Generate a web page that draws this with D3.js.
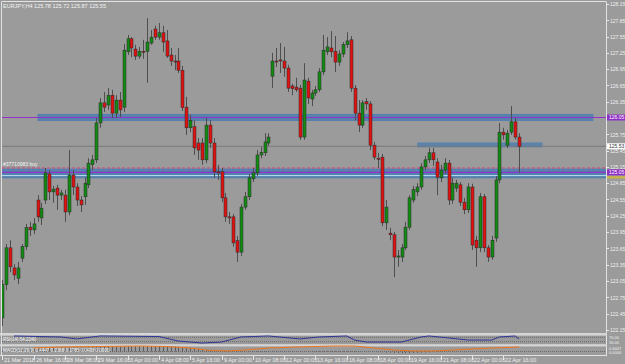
<!DOCTYPE html>
<html>
<head>
<meta charset="utf-8">
<script src="https://cdn.jsdelivr.net/npm/d3@7"></script>
<style>
  body { margin: 0; background: #9b9b9b; }
  svg { display: block; }
  text { font-family: "Liberation Sans", Arial, sans-serif; }
</style>
</head>
<body>
<svg id="chart"></svg>
<script>
// EURJPY H4 candles
var opens = [122.37,122.98,123.66,123.29,123.10,123.47,123.68,124.04,123.99,124.54,124.21,124.54,125.02,124.69,124.76,124.63,124.63,124.32,125.00,124.78,124.54,124.60,124.82,125.19,125.28,125.96,126.33,126.29,126.47,126.14,126.38,126.25,127.27,127.51,127.32,127.19,127.28,127.28,127.43,127.69,127.54,127.62,127.47,127.21,127.10,127.10,126.93,126.25,125.87,125.89,125.59,125.59,125.28,125.92,125.59,125.06,125.06,124.58,124.23,124.23,123.79,123.58,124.41,124.60,124.93,125.04,125.37,125.41,125.59,126.82,127.10,127.12,127.10,126.97,126.64,126.62,126.60,125.70,126.73,126.40,126.51,126.57,126.90,127.27,127.34,127.28,127.08,127.23,127.40,127.49,126.60,126.14,125.92,126.35,126.31,125.55,125.31,125.33,124.12,123.93,123.90,123.49,123.49,123.66,124.04,124.54,124.69,124.78,125.15,125.28,125.41,125.24,124.95,125.09,125.22,124.54,124.76,124.82,124.50,124.36,124.78,123.80,123.66,124.60,123.66,123.49,123.84,124.91,125.79,125.55,125.79,125.98,125.70];
var highs = [123.07,123.73,123.80,123.36,123.40,123.73,124.10,124.14,124.21,124.63,124.49,125.13,125.09,124.80,124.82,124.73,124.73,125.46,125.09,124.85,124.61,124.95,125.31,125.37,126.05,126.42,126.53,126.60,126.57,126.47,126.53,127.41,127.58,127.54,127.40,127.36,127.49,127.89,127.67,127.75,127.80,127.75,127.67,127.34,127.21,127.34,127.01,126.44,126.11,126.01,125.68,125.68,126.05,126.01,125.68,125.19,125.13,124.67,124.32,124.28,123.88,124.47,124.69,125.02,125.13,125.46,125.52,125.77,125.77,127.25,127.34,127.43,127.36,127.03,126.68,126.79,126.66,127.06,126.79,126.57,126.64,126.97,127.58,127.54,127.65,127.56,127.30,127.45,127.63,127.56,126.66,126.38,126.38,126.42,126.36,125.61,125.41,125.39,124.54,124.03,123.95,123.62,123.73,124.14,124.63,124.80,124.85,125.22,125.35,125.50,125.50,125.31,125.19,125.31,125.28,124.95,124.91,124.87,124.58,124.85,124.84,123.88,124.67,124.65,123.71,123.88,124.98,125.96,125.87,125.83,126.27,126.05,125.77];
var lows = [122.22,122.88,123.21,123.07,122.99,123.40,123.62,123.88,123.91,124.14,124.08,124.47,124.54,124.49,124.36,124.54,124.14,124.26,124.63,124.43,124.32,124.45,124.76,125.09,125.22,125.87,126.16,126.20,126.05,126.05,126.07,126.16,127.21,127.17,127.12,127.14,127.14,126.70,127.40,127.49,127.49,127.27,127.16,127.01,126.93,126.88,126.18,125.74,125.79,125.37,125.28,125.19,125.22,125.50,124.95,124.91,124.50,124.14,124.10,123.68,123.40,123.51,124.36,124.54,124.87,124.98,125.31,125.35,125.54,126.60,126.99,126.88,126.81,126.53,126.47,126.53,125.65,125.65,126.31,126.27,126.46,126.53,126.84,127.21,127.17,126.90,127.01,127.17,127.34,126.53,126.01,125.79,125.87,126.20,125.46,125.28,125.13,124.06,123.99,123.80,123.12,123.31,123.40,123.62,123.99,124.49,124.61,124.73,125.09,125.22,125.17,124.63,124.87,125.02,124.45,124.47,124.69,124.43,124.28,124.30,123.62,123.31,123.58,123.58,123.40,123.44,123.77,124.85,125.65,125.50,125.74,125.65,125.04];
var closes = [122.98,123.66,123.31,123.16,123.29,123.68,124.03,123.99,124.10,124.23,124.39,125.04,124.69,124.74,124.63,124.67,124.32,125.00,124.78,124.54,124.45,124.85,125.22,125.28,125.96,126.33,126.25,126.47,126.14,126.38,126.20,127.30,127.51,127.34,127.19,127.28,127.27,127.45,127.54,127.54,127.62,127.45,127.19,127.10,127.09,126.93,126.24,125.87,126.01,125.50,125.46,125.28,125.92,125.59,125.06,125.04,124.58,124.23,124.21,123.75,123.58,124.41,124.60,124.95,125.04,125.37,125.42,125.61,125.70,127.10,127.09,127.11,126.97,126.60,126.59,126.57,125.70,126.75,126.42,126.51,126.57,126.90,127.30,127.36,127.27,127.08,127.23,127.40,127.47,126.60,126.14,125.92,126.33,126.31,125.55,125.33,125.30,124.12,124.41,123.90,123.49,123.51,123.66,124.04,124.58,124.73,124.78,125.15,125.28,125.41,125.28,124.96,125.09,125.22,124.54,124.85,124.85,124.50,124.36,124.78,123.71,123.66,124.60,123.66,123.49,123.80,124.91,125.79,125.74,125.77,125.98,125.70,125.53];

var priceTicks = [128.15,127.85,127.55,127.25,126.95,126.65,126.35,126.05,125.75,125.45,125.15,124.85,124.55,124.25,123.95,123.65,123.35,123.05,122.75,122.45,122.15];
var timeLabels = ["21 Mar 2018","26 Mar 16:00","28 Mar 08:00","29 Mar 16:00","3 Apr 00:00","4 Apr 08:00","5 Apr 16:00","9 Apr 00:00","10 Apr 08:00","12 Apr 00:00","13 Apr 16:00","16 Apr 08:00","18 Apr 00:00","19 Apr 16:00","21 Apr 08:00","22 Apr 00:00","22 Apr 16:00"];

// chart objects (prices)
var hLinePurple = 126.06;
var zoneTop = [126.125, 125.995];   // from bar 9 to bar 151
var zoneMid = [125.60, 125.51];     // from bar 106 to bar 138
var zoneLow = [125.12, 124.94];
var orderPrice = 125.13;
var lowPurple = 125.05;
var lowCyan = 124.99;
var bidPrice = 125.53;

// RSI sub window
var rsiBars = [3,15,19,25,40,45,51,56,61,68,76,81,88,90,93,102,107,109,114,119,125,127,131,132];
var rsiValues = [82,73,55,82,77,36,18,27,73,82,55,73,82,45,27,27,73,82,64,45,45,73,82,54];

// MACD style sub window
var histValues = [0.10,0.12,0.15,0.15,0.16,0.18,0.22,0.26,0.28,0.32,0.34,0.38,0.40,0.40,0.40,0.40,0.38,0.40,0.40,0.38,0.36,0.36,0.38,0.40,0.42,0.46,0.48,0.50,0.50,0.50,0.50,0.52,0.54,0.54,0.54,0.54,0.54,0.54,0.54,0.55,0.55,0.55,0.54,0.52,0.50,0.48,0.42,0.38,0.34,0.30,0.26,0.22,0.18,0.14,0.10,0.08,0.06,0.04,0.02,0.00,-0.02,-0.02,0.00,0.02,0.02,0.04,0.04,0.04,0.06,0.06,0.06,0.06,0.06,0.06,0.06,0.04,0.04,0.04,0.04,0.04,0.04,0.06,0.06,0.06,0.06,0.06,0.06,0.06,0.06,0.04,0.04,0.02,0.02,0.02,0.00,-0.02,-0.06,-0.08,-0.10,-0.12,-0.14,-0.16,-0.18,-0.18,-0.18,-0.16,-0.14,-0.12,-0.10,-0.08,-0.06,-0.04,-0.02,0.00,0.00,0.00,0.00,0.00,0.00,0.00,0.00,0.00,0.00,0.00,0.00,0.00,0.00,0.00,0.00,0.00,0.00,0.00,0.00];
var signalBars = [8,15,25,35,42,48,52,57,62,68,75,85,90,95,100,105,110,115,120,125,132];
var signalValues = [0.35,0.45,0.50,0.55,0.50,0.35,0.15,0.05,0.15,0.35,0.45,0.55,0.55,0.35,0.15,0.05,0.05,0.15,0.25,0.35,0.45];

var outerWidth = 625;
var outerHeight = 364;
var left = 2, right = 606;
var mainTop = 2, mainBottom = 333;

var svg = d3.select("#chart").attr("width", outerWidth).attr("height", outerHeight);
svg.append("rect").attr("width", outerWidth).attr("height", outerHeight).attr("fill", "#9b9b9b");

var x = d3.scaleLinear().domain([0, 132]).range([2.3, 519]);
var y = d3.scaleLinear().domain([122.15, 128.15]).range([329.8, 4]);

svg.append("defs").append("clipPath").attr("id", "mainclip")
  .append("rect").attr("x", left).attr("y", mainTop).attr("width", right - left).attr("height", mainBottom - mainTop);

var cg = svg.append("g").attr("clip-path", "url(#mainclip)");

var zoneColor = "#4a7db2";
// upper zone
cg.append("rect").attr("x", x(9)).attr("width", x(151) - x(9))
  .attr("y", y(zoneTop[0])).attr("height", y(zoneTop[1]) - y(zoneTop[0]))
  .attr("fill", zoneColor).attr("opacity", 0.85);
// short zone
cg.append("rect").attr("x", x(106)).attr("width", x(138) - x(106))
  .attr("y", y(zoneMid[0])).attr("height", y(zoneMid[1]) - y(zoneMid[0]))
  .attr("fill", zoneColor).attr("opacity", 0.8);
// lower zone
cg.append("rect").attr("x", left).attr("width", right - left)
  .attr("y", y(zoneLow[0])).attr("height", y(zoneLow[1]) - y(zoneLow[0]))
  .attr("fill", zoneColor).attr("opacity", 0.85);

function hline(p, color, w, dash) {
  var l = cg.append("line").attr("x1", left).attr("x2", right)
    .attr("y1", y(p)).attr("y2", y(p))
    .attr("stroke", color).attr("stroke-width", w);
  if (dash) l.attr("stroke-dasharray", dash);
  return l;
}
hline(bidPrice, "#7a7a7a", 1);
hline(hLinePurple, "#9332c8", 1.2);
hline(orderPrice, "#d2407e", 1, "3,2");
hline(lowPurple, "#9332c8", 1.4);
hline(lowCyan, "#b8e0f0", 1);

// candles
var bars = d3.range(opens.length);
var candle = cg.append("g").selectAll("g").data(bars).enter().append("g");
candle.append("line")
  .attr("x1", (i) => Math.round(x(i)) + 0.5)
  .attr("x2", (i) => Math.round(x(i)) + 0.5)
  .attr("y1", (i) => y(highs[i]))
  .attr("y2", (i) => y(lows[i]))
  .attr("stroke", "#4e4e4e").attr("stroke-width", 1);
candle.append("rect")
  .attr("x", (i) => Math.round(x(i)) - 1)
  .attr("width", 3)
  .attr("y", (i) => y(Math.max(opens[i], closes[i])))
  .attr("height", (i) => Math.max(1, Math.abs(y(opens[i]) - y(closes[i]))))
  .attr("fill", (i) => closes[i] >= opens[i] ? "#138a13" : "#e01212")
  .attr("stroke", "#2a2a2a").attr("stroke-width", 0.5);

// texts on the main window
svg.append("text").attr("x", 3).attr("y", 7.5).attr("font-size", "5.5px").attr("fill", "#f4f4f4")
  .text("EURJPY,H4  125.78 125.72 125.87 125.55");
svg.append("text").attr("x", 3).attr("y", y(orderPrice) - 1.5).attr("font-size", "5px").attr("fill", "#f4f4f4")
  .text("#37710983 buy");

// frame
svg.append("line").attr("x1", left).attr("x2", right).attr("y1", 1.5).attr("y2", 1.5).attr("stroke", "#e2e2e2");
svg.append("line").attr("x1", 1.5).attr("x2", 1.5).attr("y1", 1.5).attr("y2", 355.5).attr("stroke", "#e2e2e2");
svg.append("line").attr("x1", right + 0.5).attr("x2", right + 0.5).attr("y1", 1.5).attr("y2", 355.5).attr("stroke", "#e2e2e2");

// price axis
var pa = svg.append("g");
priceTicks.forEach(function (p) {
  pa.append("line").attr("x1", right).attr("x2", right + 3).attr("y1", Math.round(y(p)) + 0.5).attr("y2", Math.round(y(p)) + 0.5).attr("stroke", "#e8e8e8");
  if (Math.abs(p - hLinePurple) < 0.05) return;
  pa.append("text").attr("x", right + 4).attr("y", y(p) + 2.3).attr("font-size", "5px").attr("fill", "#f0f0f0").text(p.toFixed(2));
});
function priceBox(p, fill, color, label) {
  pa.append("rect").attr("x", right + 1).attr("y", y(p) - 3).attr("width", 18).attr("height", 6).attr("fill", fill);
  pa.append("text").attr("x", right + 3).attr("y", y(p) + 1.8).attr("font-size", "5px").attr("fill", color).text(label);
}
priceBox(hLinePurple, "#8e2fc4", "#ffffff", "126.05");
priceBox(bidPrice, "#ffffff", "#333333", bidPrice.toFixed(2));
priceBox(lowPurple, "#8e2fc4", "#ffffff", "125.05");
pa.append("rect").attr("x", right + 1).attr("y", y(lowCyan) + 0.5).attr("width", 18).attr("height", 2.5).attr("fill", "#c9b24a");

// separators between windows
svg.append("rect").attr("x", 0).attr("y", 333).attr("width", right + 1).attr("height", 2.6).attr("fill", "#d6d6d6");
svg.append("rect").attr("x", 0).attr("y", 344.2).attr("width", right + 1).attr("height", 2.2).attr("fill", "#d6d6d6");
svg.append("line").attr("x1", 0).attr("x2", right + 1).attr("y1", 355.5).attr("y2", 355.5).attr("stroke", "#e2e2e2");

// RSI window
var yr = d3.scaleLinear().domain([0, 100]).range([345, 334]);
[70, 30].forEach(function (v) {
  svg.append("line").attr("x1", left).attr("x2", right).attr("y1", yr(v)).attr("y2", yr(v))
    .attr("stroke", "#4a4a4a").attr("stroke-width", 0.6).attr("stroke-dasharray", "1,1");
});
svg.append("path").datum(rsiBars)
  .attr("d", d3.line().x((b) => x(b)).y((b, k) => yr(rsiValues[k])))
  .attr("fill", "none").attr("stroke", "#2e3596").attr("stroke-width", 1);
svg.append("text").attr("x", 3).attr("y", 341).attr("font-size", "4.5px").attr("fill", "#f4f4f4").text("RSI(14) 54.2240");
svg.append("text").attr("x", right + 3).attr("y", 339).attr("font-size", "4px").attr("fill", "#f0f0f0").text("70.00");
svg.append("text").attr("x", right + 3).attr("y", 343.5).attr("font-size", "4px").attr("fill", "#f0f0f0").text("30.00");

// MACD window
var ym = d3.scaleLinear().domain([-0.35, 0.55]).range([355, 346]);
svg.append("line").attr("x1", left).attr("x2", right).attr("y1", ym(0)).attr("y2", ym(0))
  .attr("stroke", "#4a4a4a").attr("stroke-width", 0.6).attr("stroke-dasharray", "1,1");
svg.append("g").selectAll("line").data(bars).enter().append("line")
  .attr("x1", (i) => Math.round(x(i)) + 0.5)
  .attr("x2", (i) => Math.round(x(i)) + 0.5)
  .attr("y1", ym(0))
  .attr("y2", (i) => ym(histValues[i]))
  .attr("stroke", "#5c5c5c").attr("stroke-width", 1);
svg.append("path").datum(signalBars)
  .attr("d", d3.line().x((b) => x(b)).y((b, k) => ym(signalValues[k])))
  .attr("fill", "none").attr("stroke", "#ee7418").attr("stroke-width", 1);
svg.append("text").attr("x", 3).attr("y", 351.5).attr("font-size", "4.5px").attr("fill", "#f4f4f4")
  .text("MACD(12,26,9) 0.4447 0.2388 0.1785 0.0438 0.0000");
svg.append("text").attr("x", right + 3).attr("y", 349.5).attr("font-size", "4px").attr("fill", "#f0f0f0").text("0.4447");
svg.append("text").attr("x", right + 3).attr("y", 354).attr("font-size", "4px").attr("fill", "#f0f0f0").text("0.0000");

// time axis
timeLabels.forEach(function (t, k) {
  var tx = Math.round(x(k * 8)) + 0.5;
  svg.append("line").attr("x1", tx).attr("x2", tx).attr("y1", 355.5).attr("y2", 360).attr("stroke", "#e8e8e8");
  svg.append("text").attr("x", tx + 1.5).attr("y", 362).attr("font-size", "5.5px").attr("fill", "#f0f0f0").text(t);
});
</script>
</body>
</html>
